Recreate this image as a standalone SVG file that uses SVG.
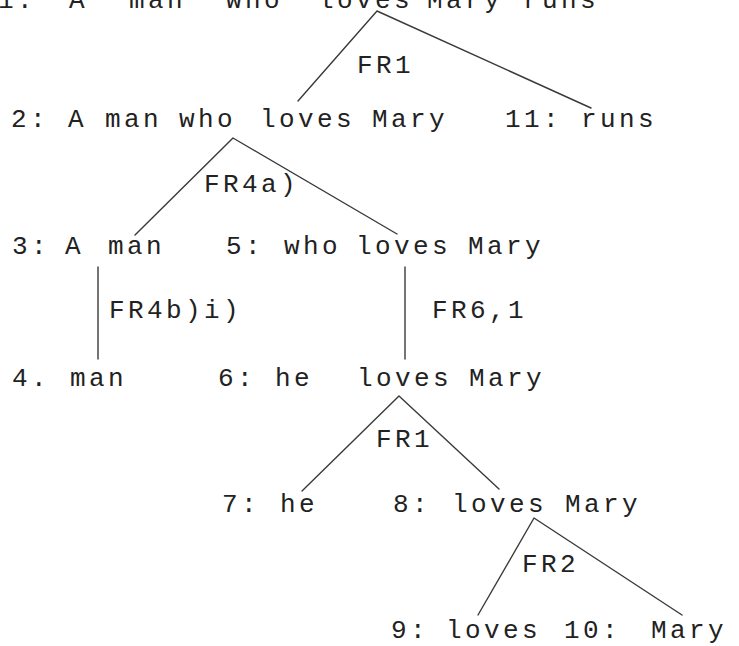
<svg xmlns="http://www.w3.org/2000/svg" width="739" height="646" viewBox="0 0 739 646">
  <style>
    .t { font-family: "Liberation Mono", "DejaVu Sans Mono", monospace; font-size: 26px; letter-spacing: 3.4px; fill: #222; }
    .edge { stroke: #3a3a3a; stroke-width: 1.4; fill: none; stroke-linecap: round; stroke-linejoin: round; }
  </style>
  <rect width="739" height="646" fill="#fff"/>

  <!-- construction tree: branches -->
  <g id="connectors">
    <polyline class="edge" points="298,101 377,11 591,108"/>
    <polyline class="edge" points="135,235 233,138 397,234"/>
    <line class="edge" x1="98" y1="267" x2="98" y2="359"/>
    <line class="edge" x1="405" y1="267" x2="405" y2="359"/>
    <polyline class="edge" points="302,491 399,396 499,489"/>
    <polyline class="edge" points="478,615 534,518 682,615"/>
  </g>

  <!-- rule names on the branches -->
  <g id="rule-labels">
    <text class="t" x="357" y="73">FR1</text>
    <text class="t" x="204" y="192">FR4a)</text>
    <text class="t" x="109" y="318">FR4b)i)</text>
    <text class="t" x="432" y="318">FR6,1</text>
    <text class="t" x="376" y="447">FR1</text>
    <text class="t" x="522" y="572">FR2</text>
  </g>

  <g id="n1"><text class="t" y="8"><tspan x="-2">1:</tspan> <tspan x="69">A</tspan> <tspan x="129">man</tspan> <tspan x="226">who</tspan> <tspan x="318">loves</tspan> <tspan x="427">Mary</tspan> <tspan x="523">runs</tspan></text></g>
  <g id="n2"><text class="t" y="127"><tspan x="11">2:</tspan> <tspan x="68">A</tspan> <tspan x="105">man</tspan> <tspan x="179">who</tspan> <tspan x="260">loves</tspan> <tspan x="372">Mary</tspan></text></g>
  <g id="n11"><text class="t" y="127"><tspan x="505">11:</tspan> <tspan x="581">runs</tspan></text></g>
  <g id="n3"><text class="t" y="254"><tspan x="12">3:</tspan> <tspan x="65">A</tspan> <tspan x="108">man</tspan></text></g>
  <g id="n5"><text class="t" y="254"><tspan x="226">5:</tspan> <tspan x="284">who</tspan> <tspan x="356">loves</tspan> <tspan x="468">Mary</tspan></text></g>
  <g id="n4"><text class="t" y="386"><tspan x="12">4.</tspan> <tspan x="70">man</tspan></text></g>
  <g id="n6"><text class="t" y="386"><tspan x="218">6:</tspan> <tspan x="275">he</tspan> <tspan x="357">loves</tspan> <tspan x="469">Mary</tspan></text></g>
  <g id="n7"><text class="t" y="512"><tspan x="222">7:</tspan> <tspan x="280">he</tspan></text></g>
  <g id="n8"><text class="t" y="512"><tspan x="393">8:</tspan> <tspan x="452">loves</tspan> <tspan x="565">Mary</tspan></text></g>
  <g id="n9"><text class="t" y="638"><tspan x="391">9:</tspan> <tspan x="446">loves</tspan></text></g>
  <g id="n10"><text class="t" y="638"><tspan x="564">10:</tspan> <tspan x="651">Mary</tspan></text></g>
</svg>
